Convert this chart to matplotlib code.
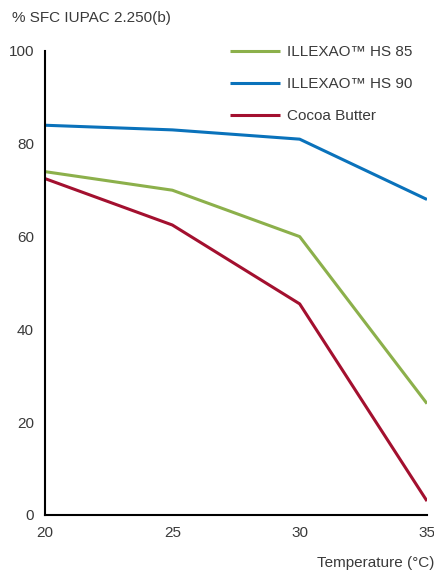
import matplotlib
matplotlib.use("Agg")
import matplotlib.pyplot as plt

temps = [20, 25, 30, 35]
hs85 = [74, 70, 60, 24]
hs90 = [84, 83, 81, 68]
cocoa = [72.5, 62.5, 45.5, 3]
labels = ["ILLEXAO™ HS 85", "ILLEXAO™ HS 90", "Cocoa Butter"]
colors = ["#8cb04b", "#0a72bb", "#a3102f"]

plt.rcParams['font.family'] = ['Liberation Sans', 'DejaVu Sans']
txt = "#3a3a3a"

fig = plt.figure(figsize=(4.35, 5.7), dpi=100)
ax = fig.add_axes([45/435, 55/570, 382/435, 464/570])

for y, lab, c in zip([hs85, hs90, cocoa], labels, colors):
    ax.plot(temps, y, color=c, lw=2.2, label=lab, solid_capstyle='butt')

ax.set_xlim(20, 35)
ax.set_ylim(0, 100)
ax.set_xticks(temps)
ax.set_yticks([0, 20, 40, 60, 80, 100])
ax.tick_params(length=0, labelsize=11, colors=txt, pad=8)
ax.tick_params(axis='x', pad=8)
for s in ['top', 'right']:
    ax.spines[s].set_visible(False)
for s in ['left', 'bottom']:
    ax.spines[s].set_linewidth(1.5)
    ax.spines[s].set_color('black')

fig.text(12/435, 1 - 18/570, "% SFC IUPAC 2.250(b)", fontsize=11, color=txt, va='center', ha='left')
fig.text(434/435, 1 - 563/570, "Temperature (°C)", fontsize=11, color=txt, va='center', ha='right')

leg = ax.legend(loc='upper left', bbox_to_anchor=(230/435, 1 - 45/570), bbox_transform=fig.transFigure,
                frameon=False, fontsize=11, handlelength=3.3, handletextpad=0.4, labelspacing=1.18,
                borderpad=0, borderaxespad=0)
for t in leg.get_texts():
    t.set_color(txt)

fig.savefig("out.png", dpi=100)
